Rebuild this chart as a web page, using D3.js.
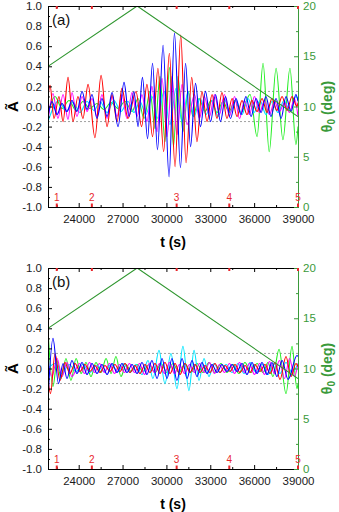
<!DOCTYPE html>
<html>
<head>
<meta charset="utf-8">
<script src="https://cdn.jsdelivr.net/npm/d3@7"></script>
<style>
body { margin: 0; background: #fff; }
svg { font-family: "Liberation Sans", Arial, sans-serif; }
</style>
</head>
<body>
<svg id="chart" width="339" height="512"></svg>
<script>
// extrema: [t (s), value]
const redA = [[21900,0.1],[22040,0.21],[22310,-0.12],[22650,0.1],[22930,-0.15],[23270,0.29],[23610,-0.15],[23950,0.1],[24290,-0.12],[24640,0.22],[25110,-0.31],[25530,0.31],[25940,-0.2],[26280,0.12],[26620,-0.15],[26960,0.18],[27370,-0.12],[27920,0.15],[28300,-0.2],[28670,0.22],[29050,-0.3],[29420,0.38],[29810,-0.45],[30200,0.53],[30590,-0.6],[30980,0.71],[31340,-0.56],[31730,0.29],[32090,-0.35],[32430,0.15],[32780,-0.15],[33120,0.12],[33460,-0.12],[33800,0.14],[34140,-0.12],[34490,0.08],[34830,-0.1],[35170,0.06],[35510,-0.08],[35850,0.06],[36200,-0.05],[36540,0.08],[36880,-0.06],[37220,0.08],[37560,-0.04],[37910,0.1],[38250,-0.04],[38590,0.1],[38930,0.0],[39000,0.04]];
const blueA = [[21900,-0.1],[22170,0.05],[22520,-0.08],[22860,0.03],[23200,-0.05],[23540,0.06],[23880,-0.05],[24230,0.15],[24570,-0.03],[24910,0.12],[25250,-0.12],[25590,0.08],[25940,-0.1],[26280,0.14],[26690,-0.2],[27100,0.24],[27440,-0.1],[27780,0.15],[28060,-0.2],[28360,0.29],[28710,-0.32],[29050,0.43],[29390,-0.43],[29770,0.61],[30180,-0.7],[30550,0.73],[30960,-0.61],[31310,0.43],[31650,-0.4],[31990,0.23],[32330,-0.2],[32670,0.15],[33020,-0.15],[33360,0.12],[33700,-0.15],[34040,0.1],[34380,-0.12],[34760,0.08],[35100,-0.08],[35440,0.1],[35790,-0.1],[36130,0.08],[36470,-0.06],[36810,0.1],[37150,-0.1],[37500,0.08],[37840,-0.12],[38180,0.1],[38520,-0.05],[38860,0.12],[39000,0.05]];
const magentaA = [[21900,-0.15],[22240,0.13],[22580,-0.12],[22930,0.12],[23270,-0.13],[23540,0.14],[23880,-0.1],[24230,0.1],[24570,-0.05],[24910,0.08],[25250,-0.1],[25590,0.12],[25940,-0.12],[26280,0.1],[26620,-0.1],[26960,0.12],[27300,-0.12],[27650,0.14],[27990,-0.1],[28330,0.12],[28670,-0.15],[29010,0.2],[29360,-0.25],[29700,0.28],[30040,-0.3],[30380,0.3],[30720,-0.28],[31070,0.22],[31410,-0.18],[31920,0.12],[32260,-0.12],[32600,0.1],[32950,-0.1],[33290,0.12],[33630,-0.08],[33970,0.12],[34310,-0.1],[34660,0.1],[35000,-0.12],[35340,0.06],[35680,-0.08],[36020,0.1],[36370,-0.06],[36710,0.06],[37050,-0.08],[37390,0.05],[37730,-0.05],[38080,0.04],[38420,-0.06],[38760,0.08],[39000,-0.1]];
const cyanA = [[21900,-0.15],[22650,0.06],[23130,-0.05],[23610,0.04],[24090,-0.06],[24570,0.05],[25050,-0.04],[25460,0.05],[25940,-0.06],[26410,0.06],[26890,-0.05],[27370,0.05],[27780,-0.06],[28190,0.05],[28600,-0.08],[29010,0.1],[29420,-0.12],[29830,0.15],[30240,-0.18],[30660,0.18],[31070,-0.15],[31480,0.15],[31890,-0.1],[32300,0.08],[32710,-0.08],[33120,0.06],[33530,-0.1],[33940,0.08],[34350,-0.06],[34760,0.06],[35170,-0.08],[35580,0.08],[35990,-0.06],[36400,0.06],[36810,-0.08],[37220,0.05],[37630,-0.06],[38040,0.06],[38450,-0.04],[38860,0.1],[39000,0.08]];
const greenA = [[21900,-0.08],[22380,0.1],[22860,-0.02],[23340,0.06],[23820,-0.04],[24290,0.05],[24770,-0.02],[25250,0.03],[25730,-0.03],[26210,0.04],[26690,-0.02],[27170,0.05],[27650,-0.05],[28060,0.08],[28470,-0.12],[28880,0.15],[29220,-0.22],[29560,0.3],[29900,-0.35],[30210,0.39],[30480,-0.4],[30790,0.3],[31130,-0.25],[31480,0.15],[31820,-0.1],[32230,0.08],[32640,-0.05],[33050,0.06],[33460,-0.06],[33870,0.05],[34280,-0.05],[34690,0.06],[35100,-0.06],[35720,0.12],[36200,-0.3],[36610,0.43],[37030,-0.45],[37500,0.38],[37970,-0.33],[38450,0.38],[38860,-0.38],[39000,-0.2]];

const redB = [[21900,-0.1],[22070,-0.25],[22380,0.15],[22720,-0.12],[23060,0.06],[23400,-0.05],[23750,0.05],[24090,-0.03],[24430,0.04],[24770,-0.03],[25110,0.03],[25460,-0.04],[25800,0.03],[26140,-0.03],[26480,0.04],[26820,-0.03],[27170,0.05],[27510,-0.04],[27850,0.03],[28190,-0.05],[28540,0.04],[28880,-0.04],[29220,0.05],[29560,-0.05],[29900,0.06],[30250,-0.05],[30590,0.05],[30930,-0.06],[31270,0.05],[31610,-0.04],[31960,0.04],[32300,-0.04],[32640,0.03],[32980,-0.04],[33320,0.05],[33670,-0.04],[34010,0.03],[34350,-0.03],[34690,0.04],[35030,-0.04],[35380,0.03],[35720,-0.04],[36060,0.04],[36400,-0.03],[36740,0.04],[37090,-0.05],[37430,0.06],[37770,-0.11],[38180,0.12],[38520,-0.08],[38860,0.05],[39000,0.02]];
const blueB = [[21900,-0.3],[22240,0.3],[22620,-0.15],[22930,0.05],[23200,-0.1],[23540,0.08],[23880,-0.05],[24230,0.06],[24570,-0.06],[24910,0.05],[25250,-0.05],[25590,0.04],[25940,-0.06],[26280,0.05],[26620,-0.04],[26960,0.05],[27300,-0.04],[27650,0.04],[27990,-0.05],[28330,0.06],[28670,-0.06],[29010,0.08],[29360,-0.1],[29700,0.1],[30040,-0.1],[30380,0.1],[30720,-0.12],[31070,0.1],[31410,-0.1],[31750,0.08],[32090,-0.08],[32430,0.06],[32780,-0.05],[33120,0.04],[33460,-0.04],[33800,0.04],[34140,-0.03],[34490,0.04],[34830,-0.03],[35170,0.05],[35510,-0.06],[35850,0.06],[36200,-0.05],[36540,0.06],[36880,-0.06],[37220,0.06],[37560,-0.08],[37910,0.08],[38320,-0.11],[38930,0.13],[39000,0.12]];
const magentaB = [[21900,0.05],[22170,-0.08],[22520,0.1],[22860,-0.08],[23200,0.06],[23540,-0.08],[24050,0.05],[24400,-0.05],[24740,0.06],[25080,-0.04],[25420,0.05],[25760,-0.04],[26110,0.05],[26450,-0.05],[26790,0.04],[27130,-0.04],[27470,0.05],[27820,-0.04],[28160,0.05],[28500,-0.06],[28840,0.05],[29180,-0.04],[29530,0.05],[29870,-0.05],[30210,0.06],[30550,-0.05],[30890,0.04],[31240,-0.05],[31580,0.04],[31920,-0.04],[32260,0.05],[32600,-0.04],[32950,0.06],[33290,-0.05],[33630,0.04],[33970,-0.04],[34310,0.05],[34660,-0.05],[35000,0.06],[35340,-0.04],[35680,0.05],[36020,-0.06],[36370,0.05],[36710,-0.06],[37050,0.07],[37390,-0.05],[37730,0.08],[38080,-0.1],[38420,0.1],[38760,-0.08],[39000,0.05]];
const cyanB = [[21900,0.0],[22380,0.05],[22860,-0.05],[23340,0.04],[23820,-0.03],[24290,0.04],[24770,-0.04],[25250,0.03],[25730,-0.03],[26210,0.04],[26690,-0.03],[27100,0.05],[27510,-0.04],[27920,0.04],[28330,-0.06],[28740,0.08],[29080,-0.1],[29490,0.18],[29900,-0.15],[30310,0.15],[30720,-0.2],[31130,0.22],[31540,-0.22],[31890,0.18],[32230,-0.12],[32570,0.1],[32910,-0.08],[33250,0.05],[33660,-0.04],[34080,0.04],[34490,-0.04],[34900,0.05],[35310,-0.05],[35720,0.06],[36130,-0.04],[36540,0.04],[36950,-0.06],[37360,0.05],[37770,-0.05],[38180,0.06],[38590,-0.04],[39000,0.05]];
const greenB = [[21900,0.38],[22240,-0.18],[22520,0.08],[22790,-0.1],[23130,0.1],[23470,-0.12],[23820,0.1],[24160,-0.05],[24500,0.06],[24840,-0.08],[25180,0.06],[25530,-0.04],[25870,0.1],[26210,-0.05],[26550,0.12],[26890,-0.08],[27240,0.04],[27580,-0.03],[27990,0.04],[28400,-0.03],[28810,0.04],[29220,-0.04],[29630,0.05],[30040,-0.04],[30450,0.05],[30860,-0.04],[31270,0.05],[31680,-0.04],[32090,0.05],[32500,-0.04],[32910,0.06],[33320,-0.04],[33730,0.05],[34140,-0.04],[34550,0.04],[34960,-0.05],[35370,0.06],[35790,-0.04],[36200,0.05],[36610,-0.04],[36950,0.06],[37290,-0.08],[37700,0.19],[38180,-0.25],[38590,0.22],[38930,-0.2],[39000,-0.15]];

// theta0 ramp (deg)
const thetaLine = [[21900,14],[28000,20],[39000,9]];

const markerTimes = [22500, 24900, 30700, 34300, 39000];
const markerLabels = ["1", "2", "3", "4", "5"];

const xTicks = [24000, 27000, 30000, 33000, 36000, 39000];
const xMinor = [22500, 25500, 28500, 31500, 34500, 37500];
const yTicks = [-1.0, -0.8, -0.6, -0.4, -0.2, 0.0, 0.2, 0.4, 0.6, 0.8, 1.0];
const yMinor = [-0.9, -0.7, -0.5, -0.3, -0.1, 0.1, 0.3, 0.5, 0.7, 0.9];
const thetaTicks = [0, 5, 10, 15, 20];
const thetaMinor = [2.5, 7.5, 12.5, 17.5];
const dashLevels = [0.15, -0.15];

const svg = d3.select("#chart");
const left = 48, right = 298, plotH = 201;
const axisGreen = "#3a9a3a";

const x = d3.scaleLinear().domain([21900, 39000]).range([left, right]);

function drawPanel(top, label, series, id) {
    const bottom = top + plotH;
    const y = d3.scaleLinear().domain([-1, 1]).range([bottom, top]);
    const yR = d3.scaleLinear().domain([0, 20]).range([bottom, top]);
    const g = svg.append("g");

    g.append("clipPath").attr("id", "clip" + id)
        .append("rect").attr("x", left).attr("y", top).attr("width", right - left).attr("height", plotH);

    const plot = g.append("g").attr("clip-path", `url(#clip${id})`);

    dashLevels.forEach(v => {
        plot.append("line")
            .attr("x1", left).attr("x2", right)
            .attr("y1", y(v)).attr("y2", y(v))
            .attr("stroke", "#888").attr("stroke-width", 0.8)
            .attr("stroke-dasharray", "2,2");
    });

    const line = d3.line()
        .x(d => x(d[0]))
        .y(d => y(d[1]))
        .curve(d3.curveMonotoneX);

    series.forEach(s => {
        plot.append("path")
            .attr("d", line(s.data))
            .attr("fill", "none")
            .attr("stroke", s.color)
            .attr("stroke-width", 1.1);
    });

    const tline = d3.line().x(d => x(d[0])).y(d => yR(d[1]));
    plot.append("path")
        .attr("d", tline(thetaLine))
        .attr("fill", "none")
        .attr("stroke", "#2f962f")
        .attr("stroke-width", 1.1);

    // axes
    const fmtY = d => (Math.abs(d) < 1e-9 ? 0 : d).toFixed(1);

    g.append("g").attr("transform", `translate(0,${bottom})`)
        .call(d3.axisBottom(x).tickValues(xTicks).tickSize(-4).tickSizeOuter(0).tickPadding(8).tickFormat(d3.format("d")));
    g.append("g").attr("transform", `translate(0,${bottom})`)
        .call(d3.axisBottom(x).tickValues(xMinor).tickSize(-2).tickSizeOuter(0).tickFormat(""));
    g.append("g").attr("transform", `translate(0,${top})`)
        .call(d3.axisTop(x).tickValues(xTicks).tickSize(-4).tickSizeOuter(0).tickFormat(""));
    g.append("g").attr("transform", `translate(0,${top})`)
        .call(d3.axisTop(x).tickValues(xMinor).tickSize(-2).tickSizeOuter(0).tickFormat(""));

    g.append("g").attr("transform", `translate(${left},0)`)
        .call(d3.axisLeft(y).tickValues(yTicks).tickSize(-4).tickSizeOuter(0).tickPadding(6).tickFormat(fmtY));
    g.append("g").attr("transform", `translate(${left},0)`)
        .call(d3.axisLeft(y).tickValues(yMinor).tickSize(-2).tickSizeOuter(0).tickFormat(""));

    const gr = g.append("g").attr("transform", `translate(${right},0)`)
        .call(d3.axisRight(yR).tickValues(thetaTicks).tickSize(-4).tickSizeOuter(0).tickPadding(5));
    const grm = g.append("g").attr("transform", `translate(${right},0)`)
        .call(d3.axisRight(yR).tickValues(thetaMinor).tickSize(-2).tickSizeOuter(0).tickFormat(""));

    g.selectAll(".tick text").attr("font-size", 11.5).attr("font-family", "Liberation Sans, Arial, sans-serif").attr("fill", "#1a1a1a");
    [gr, grm].forEach(a => {
        a.selectAll("path,line").attr("stroke", axisGreen);
        a.selectAll("text").attr("fill", axisGreen);
    });

    // event markers
    markerTimes.forEach((t, i) => {
        g.append("line").attr("x1", x(t)).attr("x2", x(t))
            .attr("y1", bottom).attr("y2", bottom - 3.5)
            .attr("stroke", "#e8262b").attr("stroke-width", 2);
        g.append("line").attr("x1", x(t)).attr("x2", x(t))
            .attr("y1", top).attr("y2", top + 3)
            .attr("stroke", "#e8262b").attr("stroke-width", 2);
        g.append("text").attr("x", x(t)).attr("y", bottom - 6)
            .attr("text-anchor", "middle").attr("font-size", 10)
            .attr("fill", "#e8262b").text(markerLabels[i]);
    });

    g.append("text").attr("x", 52).attr("y", top + 19)
        .attr("font-size", 15).attr("fill", "#111").text(label);

    g.append("text").attr("x", (left + right) / 2).attr("y", bottom + 40)
        .attr("text-anchor", "middle").attr("font-size", 14).attr("font-weight", "bold")
        .text("t (s)");

    g.append("text")
        .attr("transform", `translate(18,${(top + bottom) / 2}) rotate(-90)`)
        .attr("text-anchor", "middle").attr("font-size", 15).attr("font-weight", "bold")
        .text("Ã");

    const th = g.append("text")
        .attr("transform", `translate(332,${(top + bottom) / 2}) rotate(-90)`)
        .attr("text-anchor", "middle").attr("font-size", 14).attr("font-weight", "bold")
        .attr("fill", axisGreen);
    th.append("tspan").text("θ");
    th.append("tspan").attr("font-size", 10).attr("dy", 3).text("0");
    th.append("tspan").attr("dy", -3).text(" (deg)");
}

// green drawn first so red/blue dominate the burst
drawPanel(6, "(a)", [
    { data: greenA, color: "#22ee22" },
    { data: cyanA, color: "#00e5ff" },
    { data: magentaA, color: "#ff00ff" },
    { data: redA, color: "#ff0000" },
    { data: blueA, color: "#0000ff" }
], "a");

drawPanel(268, "(b)", [
    { data: greenB, color: "#22ee22" },
    { data: cyanB, color: "#00e5ff" },
    { data: magentaB, color: "#ff00ff" },
    { data: redB, color: "#ff0000" },
    { data: blueB, color: "#0000ff" }
], "b");
</script>
</body>
</html>
